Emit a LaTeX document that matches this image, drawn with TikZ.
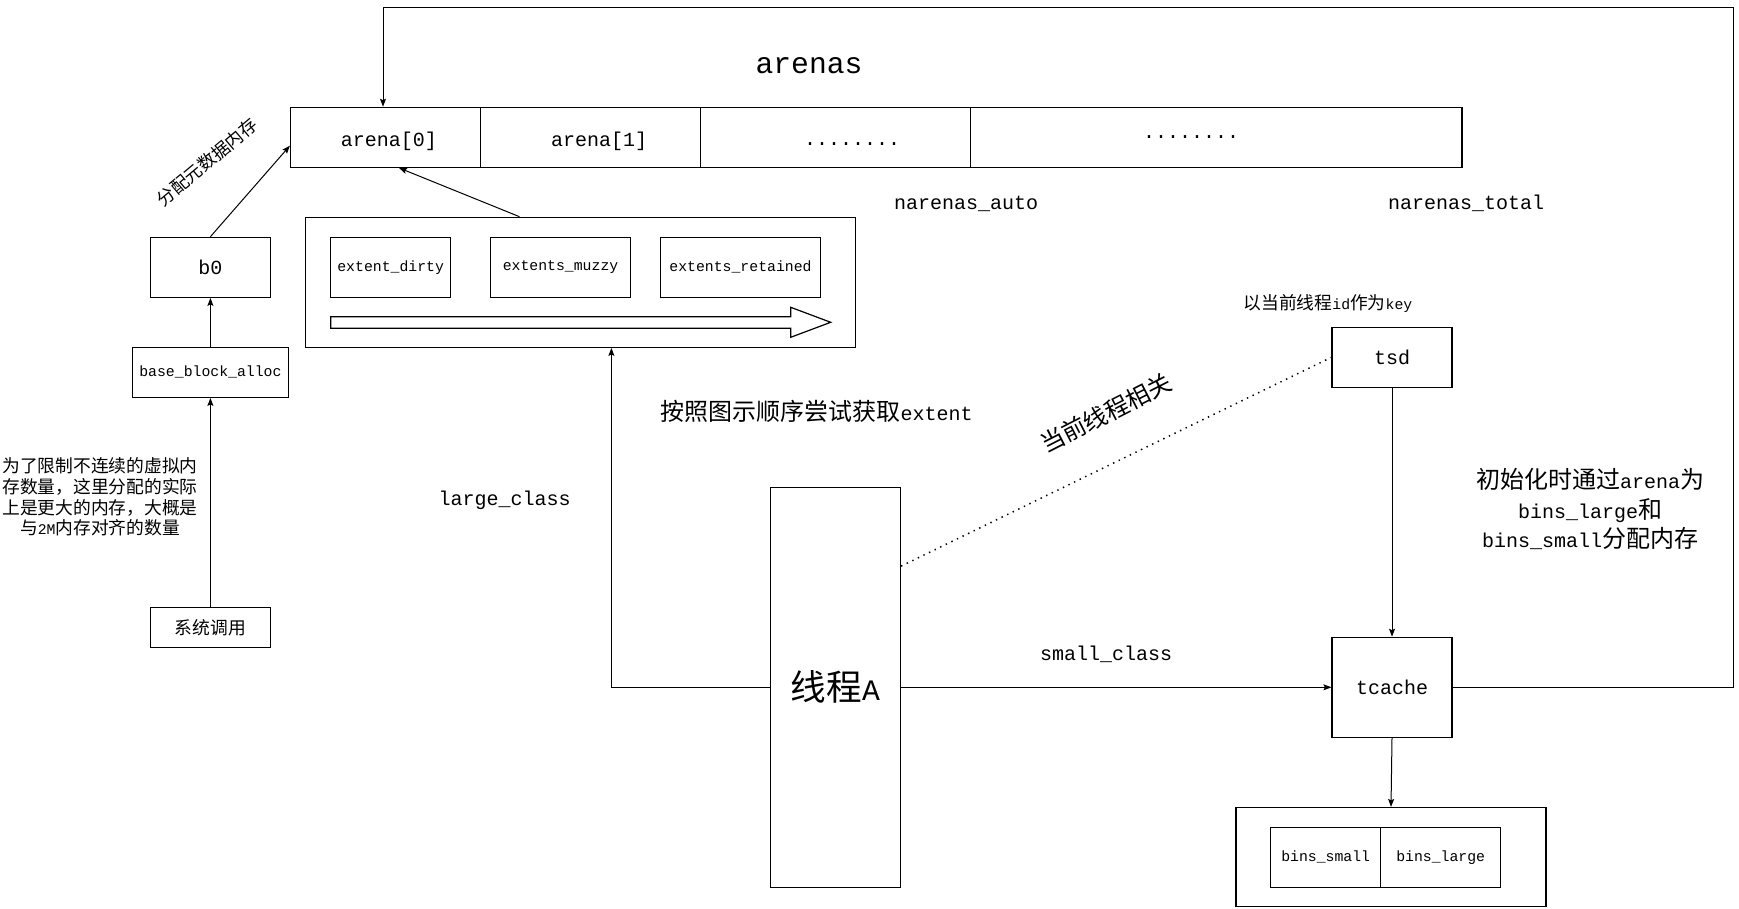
\documentclass[tikz,border=0pt]{standalone}
\usepackage{fontspec}
\setmainfont{Liberation Mono}
\newfontfamily\cjk{Noto Sans CJK SC}[Scale=1.2]
\newcommand\zh[1]{{\cjk #1}}
\usetikzlibrary{arrows.meta}
\begin{document}
\begin{tikzpicture}[x=1pt,y=-1pt,
  box/.style={draw, line width=1.2pt, inner sep=0pt, anchor=center},
  arr/.style={line width=1pt, -{Stealth[length=8pt,width=6pt,inset=1.5pt]}},
  sm/.style={font=\fontsize{14.8}{20.7}\selectfont},
  md/.style={font=\fontsize{20}{29.3}\selectfont},
  lg/.style={font=\fontsize{29.7}{36}\selectfont}]
\fill[white] (0,0) rectangle (1739,908);
\useasboundingbox (0,0) rectangle (1739,908);

% arenas array
\node[box, minimum width=190pt, minimum height=60pt] (cellA) at (385.5,137.3) {};
\node[box, minimum width=219.8pt, minimum height=60pt] (cellB) at (590.4,137.3) {};
\node[box, minimum width=270pt, minimum height=60pt] (cellC) at (835.3,137.3) {};
\node[box, minimum width=491.7pt, minimum height=60pt] (cellD) at (1216.15,137.3) {};
\node[md, anchor=base] (tA) at (389,146.5) {arena[0]};
\node[md, anchor=base] (tB) at (599,146.5) {arena[1]};
\node[md, anchor=base] (tC) at (852,145) {........};
\node[md, anchor=base] (tD) at (1191,138) {........};
\node[lg, anchor=base] (tArenas) at (809,73.3) {arenas};
\node[md, anchor=base] (tAuto) at (966,209) {narenas\_auto};
\node[md, anchor=base] (tTotal) at (1466,209) {narenas\_total};

% left column
\node[box, md, minimum width=120pt, minimum height=60pt] (b0) at (210.4,267.3) {b0};
\node[box, sm, minimum width=155.6pt, minimum height=50pt] (base) at (210.4,372.3) {base\_block\_alloc};
\node[box, sm, minimum width=120pt, minimum height=40pt] (sys) at (210.4,627.3) {\zh{系统调用}};
\node[sm, align=center] (note) at (100,497) {\zh{为了限制不连续的虚拟内}\\\zh{存数量，这里分配的实际}\\\zh{上是更大的内存，大概是}\\\zh{与}2M\zh{内存对齐的数量}};
\node[sm, rotate=40] (tMeta) at (207,162) {\zh{分配元数据内存}};

% extents container
\node[box, minimum width=550pt, minimum height=130pt] (extbox) at (580.4,282.3) {};
\node[box, sm, minimum width=119.9pt, minimum height=60pt] (ed) at (390.65,267.3) {extent\_dirty};
\node[box, sm, minimum width=139.5pt, minimum height=60pt] (em) at (560.55,267.3) {extents\_muzzy};
\node[box, sm, minimum width=159.6pt, minimum height=60pt] (er) at (740.5,267.3) {extents\_retained};
\draw[line width=1.2pt, line join=miter] (330.7,316.7) -- (790.7,316.7) -- (790.7,307.3) -- (830.7,322.3)
  -- (790.7,337.3) -- (790.7,328.3) -- (330.7,328.3) -- cycle;

\node[md, anchor=base] (tLarge) at (504.7,505) {large\_class};
\node[md, anchor=base] (tOrder) at (816.5,420) {\zh{按照图示顺序尝试获取}extent};

% thread
\node[box, lg, minimum width=130.1pt, minimum height=400pt] (thread) at (835.45,687.3) {\zh{线程}A};

% right side
\node[box, md, minimum width=120pt, minimum height=60pt] (tsd) at (1392,357.3) {tsd};
\node[box, md, minimum width=120pt, minimum height=100pt] (tcache) at (1392,687.3) {tcache};
\node[sm, anchor=base] (tKey) at (1328,309) {\zh{以当前线程}id\zh{作为}key};
\node[md, rotate=27] (tRel) at (1106,413) {\zh{当前线程相关}};
\node[md, anchor=base] (tSmall) at (1106,660) {small\_class};
\node[md, align=center] (tInit) at (1590,509) {\zh{初始化时通过}arena\zh{为}\\bins\_large\zh{和}\\bins\_small\zh{分配内存}};

\node[box, minimum width=310pt, minimum height=99pt] (bins) at (1391,857) {};
\node[box, sm, minimum width=109.7pt, minimum height=60pt] (bsmall) at (1325.65,857.3) {bins\_small};
\node[box, sm, minimum width=120.3pt, minimum height=60pt] (blarge) at (1440.65,857.3) {bins\_large};

% connectors
\coordinate (fbR) at (1733,7.5);
\coordinate (fbL) at (383,7.5);
\draw[arr] (tcache.east) -| (fbR) -- (fbL) -- (fbL |- cellA.north);
\draw[arr] (tsd.south) -- (tcache.north);
\draw[arr] (thread.east) -- (tcache.west);
\draw[arr] (tcache.south) -- (bins.north);
\draw[arr] (thread.west) -| ([xshift=31pt]extbox.south);
\draw[arr] ([xshift=-60.9pt]extbox.north) -- ([xshift=13.5pt]cellA.south);
\draw[arr] (b0.north) -- ([yshift=-8.4pt]cellA.west);
\draw[arr] (base.north) -- (b0.south);
\draw[arr] (sys.north) -- (base.south);
\draw[line width=1.5pt, dash pattern=on 1.4pt off 4.8pt] ([yshift=-79.4pt]thread.north east) -- (tsd.west);
\end{tikzpicture}
\end{document}
